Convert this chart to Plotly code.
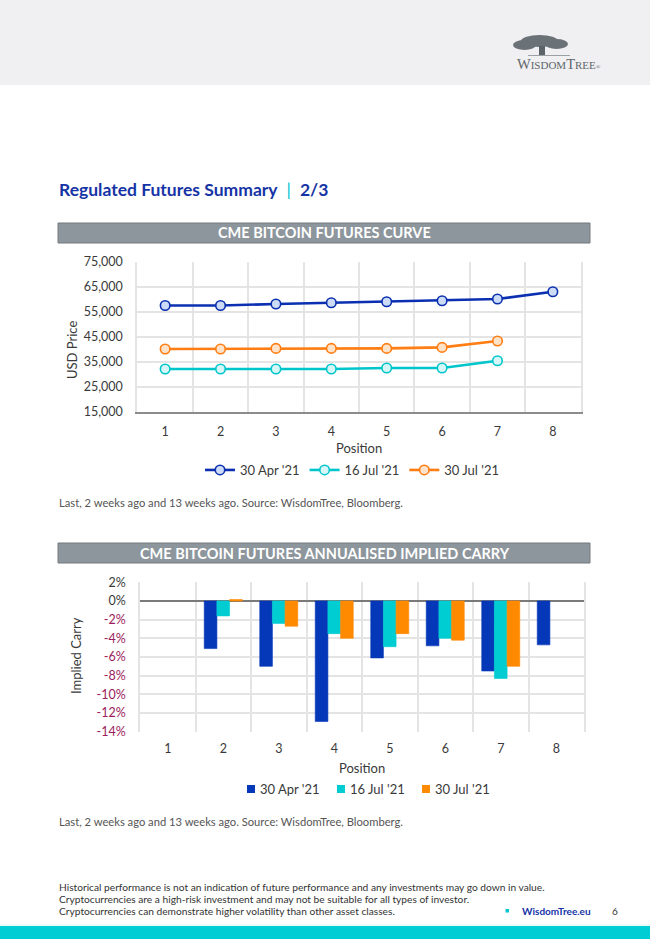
import plotly.graph_objects as go

W, H = 650, 939
def X(p): return p / W
def Y(p): return 1 - p / H

# ---------------- data ----------------
positions = ["1", "2", "3", "4", "5", "6", "7", "8"]
series_names = ["30 Apr '21", "16 Jul '21", "30 Jul '21"]

curve_apr30 = [57600, 57600, 58200, 58700, 59100, 59500, 60200, 63100]
curve_jul16 = [32200, 32200, 32200, 32200, 32600, 32600, 35500, None]
curve_jul30 = [40200, 40200, 40450, 40450, 40450, 40850, 43400, None]

carry_apr30 = [None, -5.1, -7.0, -12.9, -6.1, -4.8, -7.5, -4.7]
carry_jul16 = [None, -1.6, -2.4, -3.5, -4.9, -4.0, -8.3, None]
carry_jul30 = [None, 0.15, -2.7, -4.0, -3.5, -4.2, -7.0, None]

price_ticks = [15000, 25000, 35000, 45000, 55000, 65000, 75000]
carry_ticks = [2, 0, -2, -4, -6, -8, -10, -12, -14]

# ---------------- styles ----------------
FONT = "Lato"
TXT = "#3a3a3a"
HEADER = "#f0f0f2"
CYAN_BAND = "#00ced4"
line_colors = ["#0a2fb0", "#00c6cc", "#ff7d12"]
marker_fills = ["#cddcf6", "#d6f6f7", "#ffe2c8"]
bar_colors = ["#0538b8", "#00cdd2", "#ff8a00"]
NEG = "#9c1c5c"
GRID = "#e4e4e4"

fig = go.Figure()

curves = [curve_apr30, curve_jul16, curve_jul30]
for name, vals, lc, mf in zip(series_names, curves, line_colors, marker_fills):
    fig.add_trace(go.Scatter(
        x=positions, y=vals, name=name, mode="lines+markers",
        line=dict(color=lc, width=2.6),
        marker=dict(symbol="circle", size=9.5, color=mf, line=dict(color=lc, width=1.6)),
        xaxis="x", yaxis="y", legend="legend", connectgaps=False,
    ))

carries = [carry_apr30, carry_jul16, carry_jul30]
for name, vals, bc in zip(series_names, carries, bar_colors):
    fig.add_trace(go.Bar(
        x=positions, y=vals, name=name,
        marker=dict(color=bc, line=dict(color=bc, width=0.6)),
        xaxis="x2", yaxis="y2", showlegend=False,
    ))

carry_text = [
    (f"{v}%" if v >= 0 else f"<span style='color:{NEG}'>{v}%</span>")
    for v in carry_ticks
]

axis_font = dict(family=FONT, size=12.5, color=TXT)

fig.update_layout(
    width=W, height=H,
    margin=dict(l=0, r=0, t=0, b=0, autoexpand=False),
    paper_bgcolor="white", plot_bgcolor="white",
    font=dict(family=FONT, color=TXT),
    showlegend=True,
    barmode="group", bargap=0.315, bargroupgap=0,
    xaxis=dict(
        domain=[X(137), X(581)], anchor="y", type="category",
        tickson="boundaries", showgrid=True, gridcolor=GRID, gridwidth=1.5,
        ticks="", tickfont=axis_font, ticklabelstandoff=7,
        showline=True, linecolor="#8c8c8c", linewidth=2, zeroline=False,
        automargin=False,
    ),
    yaxis=dict(
        domain=[Y(412), Y(262)], anchor="x", range=[15000, 75000],
        tickvals=price_ticks, tickformat=",", showgrid=True, gridcolor=GRID,
        gridwidth=1.5, ticks="", tickfont=axis_font, ticklabelstandoff=10,
        showline=True, linecolor=GRID, linewidth=1.5, mirror=True, zeroline=False,
        automargin=False,
    ),
    xaxis2=dict(
        domain=[X(140), X(584)], anchor="y2", type="category",
        tickson="boundaries", showgrid=True, gridcolor=GRID, gridwidth=1.5,
        ticks="", tickfont=axis_font, ticklabelstandoff=8,
        showline=False, zeroline=False, automargin=False,
    ),
    yaxis2=dict(
        domain=[Y(731.7), Y(582.3)], anchor="x2", range=[-14, 2],
        tickvals=carry_ticks, ticktext=carry_text, showgrid=True, gridcolor=GRID,
        gridwidth=1.5, ticks="", tickfont=axis_font, ticklabelstandoff=10,
        showline=True, linecolor=GRID, linewidth=1.5, mirror=True,
        zeroline=True, zerolinecolor="#7a7a7a", zerolinewidth=2, automargin=False,
    ),
    legend=dict(
        orientation="h", x=X(352), xanchor="center", y=Y(470), yanchor="middle",
        font=dict(family=FONT, size=13, color=TXT), bgcolor="rgba(0,0,0,0)",
        itemclick=False, tracegroupgap=0,
    ),
)

shapes = [
    # header band
    dict(type="rect", xref="paper", yref="paper", x0=0, x1=1, y0=Y(85), y1=1,
         fillcolor=HEADER, line=dict(width=0), layer="below"),
    # footer band
    dict(type="rect", xref="paper", yref="paper", x0=0, x1=1, y0=0, y1=Y(926),
         fillcolor=CYAN_BAND, line=dict(width=0)),
    dict(type="line", xref="paper", yref="paper", x0=0, x1=1, y0=Y(925), y1=Y(925),
         line=dict(color="#d9f5f6", width=1)),
    # title bars
    dict(type="rect", xref="paper", yref="paper", x0=X(58), x1=X(590), y0=Y(243), y1=Y(223),
         fillcolor="#8d969c", line=dict(color="#727a80", width=1)),
    dict(type="rect", xref="paper", yref="paper", x0=X(58), x1=X(590), y0=Y(563), y1=Y(543),
         fillcolor="#8d969c", line=dict(color="#727a80", width=1)),
    # logo tree
    dict(type="circle", xref="paper", yref="paper", x0=X(513), x1=X(536), y0=Y(50), y1=Y(40),
         fillcolor="#6b7277", line=dict(width=0)),
    dict(type="circle", xref="paper", yref="paper", x0=X(521), x1=X(558), y0=Y(47), y1=Y(35),
         fillcolor="#6b7277", line=dict(width=0)),
    dict(type="circle", xref="paper", yref="paper", x0=X(545), x1=X(568), y0=Y(49), y1=Y(39),
         fillcolor="#6b7277", line=dict(width=0)),
    dict(type="rect", xref="paper", yref="paper", x0=X(539), x1=X(545), y0=Y(55), y1=Y(46),
         fillcolor="#5d6469", line=dict(width=0)),
    dict(type="line", xref="paper", yref="paper", x0=X(528), x1=X(570), y0=Y(55.5), y1=Y(55.5),
         line=dict(color="#9aa0a4", width=1)),
    # footer bullet
    dict(type="rect", xref="paper", yref="paper", x0=X(505.5), x1=X(509), y0=Y(912.5), y1=Y(909),
         fillcolor="#00c6d0", line=dict(width=0)),
]

def ann(x, y, text, size, color=TXT, xanchor="left", family=FONT, angle=0):
    return dict(xref="paper", yref="paper", x=X(x), y=Y(y), text=text, showarrow=False,
                xanchor=xanchor, yanchor="middle", textangle=angle,
                font=dict(family=family, size=size, color=color))

annotations = [
    ann(515, 64, "<span style='font-size:14.5px'>W</span>ISDOM<span style='font-size:14.5px'>T</span>REE<span style='font-size:6px'>®</span>",
        11, "#5f666b", family="Liberation Serif"),
    ann(57, 189, "<b>Regulated Futures Summary</b>  <span style='color:#00c3d0'>|</span>  <b>2/3</b>",
        17.5, "#1634a6"),
    ann(324, 233, "<b>CME BITCOIN FUTURES CURVE</b>", 14.5, "white", xanchor="center"),
    ann(325, 553, "<b>CME BITCOIN FUTURES ANNUALISED IMPLIED CARRY</b>", 14.5, "white", xanchor="center"),
    ann(72, 350, "USD Price", 13, TXT, xanchor="center", angle=-90),
    ann(359, 448, "Position", 13, TXT, xanchor="center"),
    ann(76, 656, "Implied Carry", 13, TXT, xanchor="center", angle=-90),
    ann(362, 768, "Position", 13, TXT, xanchor="center"),
    ann(57, 502, "Last, 2 weeks ago and 13 weeks ago. Source: WisdomTree, Bloomberg.", 11.2, "#555555"),
    ann(57, 821, "Last, 2 weeks ago and 13 weeks ago. Source: WisdomTree, Bloomberg.", 11.2, "#555555"),
    ann(57, 887, "Historical performance is not an indication of future performance and any investments may go down in value.", 10.2, "#333333"),
    ann(57, 899, "Cryptocurrencies are a high-risk investment and may not be suitable for all types of investor.", 10.2, "#333333"),
    ann(57, 911, "Cryptocurrencies can demonstrate higher volatility than other asset classes.", 10.2, "#333333"),
    ann(520, 911, "<b>WisdomTree.eu</b>", 10, "#1634a6"),
    ann(615, 911, "6", 10, "#333333", xanchor="center"),
]

# manual legend for the carry chart (small squares, tight text)
legend2_sq_x = [247, 337, 422]
for sx, name, bc in zip(legend2_sq_x, series_names, bar_colors):
    shapes.append(dict(type="rect", xref="paper", yref="paper",
                       x0=X(sx), x1=X(sx + 8), y0=Y(793), y1=Y(785),
                       fillcolor=bc, line=dict(width=0)))
    annotations.append(ann(sx + 10.5, 789, name, 13, TXT))

fig.update_layout(shapes=shapes, annotations=annotations)

post = ("document.body.style.margin='0';document.body.style.overflow='hidden';"
        "document.body.style.background='linear-gradient(to bottom, "
        f"{HEADER} 0px, {HEADER} 85px, #ffffff 85px, #ffffff 926px, {CYAN_BAND} 926px)';")
fig.write_html("out.html", config={"displayModeBar": False}, post_script=post)
